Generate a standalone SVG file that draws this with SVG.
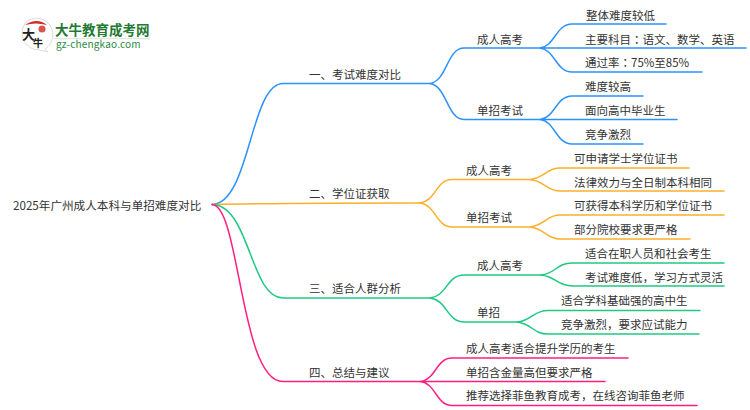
<svg xmlns="http://www.w3.org/2000/svg" width="750" height="410" viewBox="0 0 750 410">
<style>
text{font-family:"Noto Sans CJK SC","Noto Sans",sans-serif;font-size:11.5px;fill:#333}
.c{fill:none;stroke-width:1.5;stroke-linecap:round}
.b{stroke:#2b92ff}.o{stroke:#fbb02b}.g{stroke:#1fc981}.p{stroke:#ff1f80}
.tc{font-family:"Noto Sans CJK TC","Noto Sans",sans-serif}
</style>
<rect width="750" height="410" fill="#fff"/>
<g id="logo">
<path d="M27 21 a18 18 0 0 1 19 0 a17 17 0 0 1 -1 28 l3 3 l-8 -2 a17 17 0 0 1 -13 -29z" fill="#fff" stroke="#ddd" stroke-width="1"/>
<path d="M25 25 q12 -8 22 0 q-11 -3 -22 0z" fill="#d22a26"/>
<circle cx="42" cy="29" r="3.5" fill="#d9534f"/>
<text x="22" y="39" style="font-size:13px;font-weight:700;fill:#222">大</text>
<text x="33" y="47" style="font-size:10px;font-weight:700;fill:#222">牛</text>
<text x="55" y="35" style="font-size:13.500px;font-weight:700;fill:#1f7a34">大牛教育成考网</text>
<rect x="54" y="38" width="96" height="1.200" fill="#dfe8df"/>
<text x="56" y="48" style="font-size:10px;fill:#1f8a3e;letter-spacing:.2px">gz-chengkao.com</text>
</g>
<g id="connectors">
<path class="c b" d="M212 204.500C250 204 250 83.500 283 83.500H430"/>
<path class="c o" d="M212 204.500C260 203.500 300 203 420 203"/>
<path class="c g" d="M212 204.500C250 205 250 298 283 298H430"/>
<path class="c p" d="M212 204.500C240 205 240 381.500 283 381.500H420"/>
<path class="c b" d="M430 83.500C447 81 447 48 464 48H540M430 83.500C447 86 447 119.500 464 119.500H540"/>
<path class="c b" d="M540 48C555 46 556 24 572 24H666M540 48H746M540 48C555 50 556 72 572 72H702"/>
<path class="c b" d="M540 119.500C555 118 556 96 572 96H643M540 119.500H677M540 119.500C555 121 556 144 572 144H643"/>
<path class="c o" d="M420 203C436 201 436 179.500 452 179.500H530M420 203C436 205 436 227 452 227H530"/>
<path class="c o" d="M530 179.500C545 178 546 168 560 168H689M530 179.500C545 181 546 191 560 191H724"/>
<path class="c o" d="M530 227C545 225.500 546 215 560 215H724M530 227C545 228.500 546 239 560 239H690"/>
<path class="c g" d="M430 298C447 296 447 275 464 275H541M430 298C447 300 447 322 464 322H517"/>
<path class="c g" d="M541 275C556 273.500 557 263 572 263H724M541 275C556 276.500 557 286 572 286H724"/>
<path class="c g" d="M517 322C532 320.500 533 310.500 548 310.500H700M517 322C532 323.500 533 334 548 334H699"/>
<path class="c p" d="M420 381.500C436 380 436 358 452 358H628M420 381.500H605M420 381.500C436 383 436 405.500 452 405.500H697"/>
</g>
<g id="root"><text x="13" y="210" style="font-size:11.620px">2025年广州成人本科与单招难度对比</text></g>
<g id="n1"><text x="309" y="79">一、考试难度对比</text></g>
<g id="n1a"><text x="477" y="44">成人高考</text></g>
<g id="n1a1"><text x="586" y="20">整体难度较低</text></g>
<g id="n1a2"><text x="585" y="44">主要科目<tspan class="tc">：</tspan>语文、数学、英语</text></g>
<g id="n1a3"><text x="585" y="67">通过率<tspan class="tc">：</tspan>75%至85%</text></g>
<g id="n1b"><text x="477" y="115">单招考试</text></g>
<g id="n1b1"><text x="585" y="91">难度较高</text></g>
<g id="n1b2"><text x="585" y="115">面向高中毕业生</text></g>
<g id="n1b3"><text x="585" y="139">竞争激烈</text></g>
<g id="n2"><text x="309" y="198">二、学位证获取</text></g>
<g id="n2a"><text x="466" y="175">成人高考</text></g>
<g id="n2a1"><text x="574" y="163">可申请学士学位证书</text></g>
<g id="n2a2"><text x="574" y="187">法律效力与全日制本科相同</text></g>
<g id="n2b"><text x="466" y="222">单招考试</text></g>
<g id="n2b1"><text x="574" y="210">可获得本科学历和学位证书</text></g>
<g id="n2b2"><text x="574" y="234">部分院校要求更严格</text></g>
<g id="n3"><text x="309" y="293">三、适合人群分析</text></g>
<g id="n3a"><text x="477" y="270">成人高考</text></g>
<g id="n3a1"><text x="585" y="258">适合在职人员和社会考生</text></g>
<g id="n3a2"><text x="585" y="282">考试难度低，学习方式灵活</text></g>
<g id="n3b"><text x="477" y="317">单招</text></g>
<g id="n3b1"><text x="561" y="305">适合学科基础强的高中生</text></g>
<g id="n3b2"><text x="561" y="329">竞争激烈，要求应试能力</text></g>
<g id="n4"><text x="309" y="377">四、总结与建议</text></g>
<g id="n4a"><text x="466" y="353">成人高考适合提升学历的考生</text></g>
<g id="n4b"><text x="466" y="377">单招含金量高但要求严格</text></g>
<g id="n4c"><text x="466" y="400">推荐选择菲鱼教育成考，在线咨询菲鱼老师</text></g>
</svg>
